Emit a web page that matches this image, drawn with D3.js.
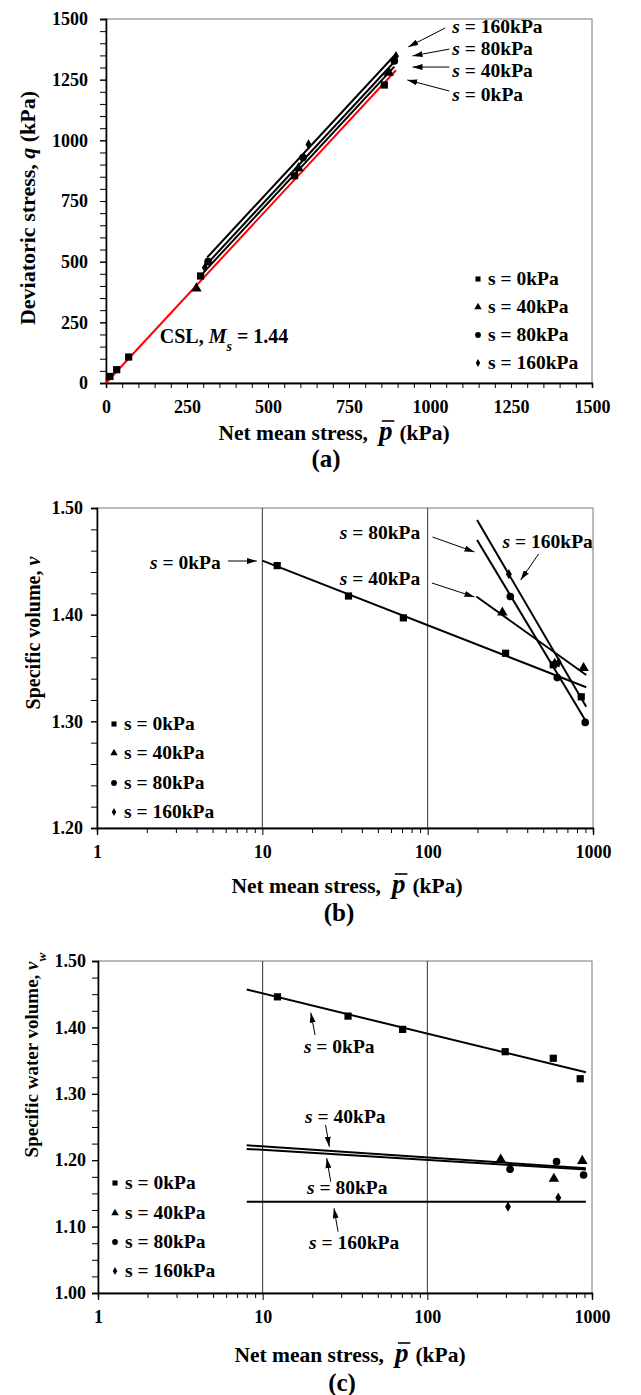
<!DOCTYPE html>
<html>
<head>
<meta charset="utf-8">
<script src="https://cdn.jsdelivr.net/npm/d3@7"></script>
<style>
body { margin:0; background:#fff; }
text { font-family:"Liberation Serif","Times New Roman",serif; font-weight:bold; fill:#000; }
</style>
</head>
<body>
<svg id="chart" width="641" height="1395"></svg>
<script>
// ---- data ----
var suctions = [0, 40, 80, 160];
var legendLabels = ["s = 0kPa", "s = 40kPa", "s = 80kPa", "s = 160kPa"];

// (a) q - p
var a_p0 = [12, 33, 70, 292, 582, 859];
var a_q0 = [27, 55, 107, 441, 854, 1228];
var a_p40 = [279, 594, 873];
var a_q40 = [390, 885, 1279];
var a_p80 = [315, 608, 890];
var a_q80 = [500, 929, 1327];
var a_p160 = [305, 625, 895];
var a_q160 = [475, 983, 1347];
var a_csl_p = [0, 895];
var a_csl_q = [0, 1289];
var a_line40_p = [300, 890];
var a_line40_q = [454, 1304];
var a_line80_p = [305, 893];
var a_line80_q = [481, 1328];
var a_line160_p = [312, 896];
var a_line160_q = [517, 1358];
var a_xTicks = [0, 250, 500, 750, 1000, 1250, 1500];
var a_yTicks = [0, 250, 500, 750, 1000, 1250, 1500];

// (b) v - log p
var b_p0 = [12.3, 33.2, 71.3, 296, 575, 849];
var b_v0 = [1.446, 1.4175, 1.397, 1.3638, 1.353, 1.323];
var b_p40 = [283, 587, 877];
var b_v40 = [1.402, 1.354, 1.350];
var b_p80 = [316, 608, 897];
var b_v80 = [1.417, 1.341, 1.299];
var b_p160 = [310, 620];
var b_v160 = [1.438, 1.3555];
var b_line0_p = [10, 910];
var b_line0_v = [1.4506, 1.332];
var b_line40_p = [197, 910];
var b_line40_v = [1.417, 1.3434];
var b_line80_p = [199, 910];
var b_line80_v = [1.470, 1.2997];
var b_line160_p = [199, 910];
var b_line160_v = [1.4888, 1.3137];
var b_yTicks = [1.20, 1.30, 1.40, 1.50];

// (c) vw - log p
var c_p0 = [12.3, 33, 70.8, 297, 582, 848];
var c_vw0 = [1.446, 1.417, 1.397, 1.3634, 1.3535, 1.3227];
var c_p40 = [279, 587, 873];
var c_vw40 = [1.201, 1.172, 1.199];
var c_p80 = [318, 609, 889];
var c_vw80 = [1.1863, 1.1978, 1.1777];
var c_p160 = [309, 624];
var c_vw160 = [1.130, 1.1435];
var c_line0_p = [8, 918];
var c_line0_vw = [1.457, 1.3324];
var c_line40_p = [8, 918];
var c_line40_vw = [1.2225, 1.188];
var c_line80_p = [8, 918];
var c_line80_vw = [1.217, 1.186];
var c_line160_p = [8, 918];
var c_line160_vw = [1.1375, 1.1375];
var c_yTicks = [1.00, 1.10, 1.20, 1.30, 1.40, 1.50];

var logTicks = [1, 10, 100, 1000];

// ---- setup ----
var svg = d3.select("#chart");

var defs = svg.append("defs");
defs.append("marker")
    .attr("id", "arr")
    .attr("viewBox", "0 0 10 6")
    .attr("refX", 10).attr("refY", 3)
    .attr("markerWidth", 10).attr("markerHeight", 6)
    .attr("markerUnits", "userSpaceOnUse")
    .attr("orient", "auto")
  .append("path").attr("d", "M0,0L10,3L0,6Z").attr("fill", "#000");

var symTypes = [d3.symbolSquare, d3.symbolTriangle, d3.symbolCircle, d3.symbolDiamond];
var symSizes = [52, 48, 46, 30];
var legSizes = [26, 24, 26, 18];

function zip(xs, ys) {
  return xs.map(function(d, i) { return [d, ys[i]]; });
}

function drawPoints(g, xs, ys, sx, sy, k) {
  g.append("g").selectAll("path")
    .data(zip(xs, ys))
    .enter().append("path")
    .attr("d", d3.symbol().type(symTypes[k]).size(symSizes[k]))
    .attr("transform", function(d) { return "translate(" + sx(d[0]) + "," + sy(d[1]) + ")"; })
    .attr("fill", "#000");
}

function drawLine(g, xs, ys, sx, sy, color, w) {
  var line = d3.line().x(function(d) { return sx(d[0]); }).y(function(d) { return sy(d[1]); });
  g.append("path").datum(zip(xs, ys))
    .attr("d", line)
    .attr("fill", "none")
    .attr("stroke", color)
    .attr("stroke-width", w);
}

function styleAxis(ax, size) {
  ax.attr("font-family", null).attr("font-size", null);
  ax.select(".domain").attr("stroke", "#000").attr("stroke-width", 1.3);
  ax.selectAll(".tick line").attr("stroke", "#000").attr("stroke-width", 1);
  ax.selectAll("text").style("font-size", size + "px");
}

function frame(sx, sy) {
  var r = sx.range(), t = sy.range();
  svg.append("rect")
    .attr("x", r[0]).attr("y", t[1])
    .attr("width", r[1] - r[0]).attr("height", t[0] - t[1])
    .attr("fill", "none").attr("stroke", "#777").attr("stroke-width", 1);
}

function legend(x, ys, fs) {
  var g = svg.append("g");
  suctions.forEach(function(s, k) {
    g.append("path")
      .attr("d", d3.symbol().type(symTypes[k]).size(legSizes[k]))
      .attr("transform", "translate(" + x + "," + ys[k] + ")")
      .attr("fill", "#000");
    g.append("text")
      .attr("x", x + 10).attr("y", ys[k] + fs * 0.33)
      .style("font-size", fs + "px")
      .text(legendLabels[k]);
  });
}

function note(x, y, rest, fs) {
  var t = svg.append("text").attr("x", x).attr("y", y).style("font-size", fs + "px");
  t.append("tspan").style("font-style", "italic").text("s");
  t.append("tspan").text(" " + rest);
}

function arrow(x1, y1, x2, y2) {
  svg.append("line")
    .attr("x1", x1).attr("y1", y1).attr("x2", x2).attr("y2", y2)
    .attr("stroke", "#000").attr("stroke-width", 1)
    .attr("marker-end", "url(#arr)");
}

function xTitle(cx, y, lab, labY) {
  var t = svg.append("text").attr("x", cx).attr("y", y)
    .attr("text-anchor", "middle").style("font-size", "21.5px");
  t.append("tspan").text("Net mean stress,");
  t.append("tspan").attr("dx", 11)
    .style("font-style", "italic").style("font-size", "27px").text("p");
  t.append("tspan").attr("dx", 7).text("(kPa)");
  var r = t.node().getExtentOfChar(16);
  svg.append("line")
    .attr("x1", r.x + 3).attr("x2", r.x + r.width + 2)
    .attr("y1", r.y + 5).attr("y2", r.y + 5)
    .attr("stroke", "#000").attr("stroke-width", 1.6);
  svg.append("text").attr("x", cx - 8).attr("y", labY)
    .attr("text-anchor", "middle").style("font-size", "25px").text(lab);
}

function yTitle(x, cy, fs, parts) {
  var t = svg.append("text")
    .attr("transform", "translate(" + x + "," + cy + ") rotate(-90)")
    .attr("text-anchor", "middle").style("font-size", fs + "px");
  parts.forEach(function(p) {
    var s = t.append("tspan").text(p.t);
    if (p.i) s.style("font-style", "italic");
    if (p.sub) s.attr("baseline-shift", "sub").style("font-size", (fs * 0.7) + "px");
  });
}

// ---- panel (a) ----
var ax = d3.scaleLinear().domain([0, 1500]).range([106, 592]);
var ay = d3.scaleLinear().domain([0, 1500]).range([383, 19]);
frame(ax, ay);

var aMinor = d3.range(0, 1501, 50);
styleAxis(svg.append("g").attr("transform", "translate(0,383)")
  .call(d3.axisBottom(ax).tickValues(aMinor).tickSize(5).tickFormat("")), 18);
styleAxis(svg.append("g").attr("transform", "translate(0,383)")
  .call(d3.axisBottom(ax).tickValues(a_xTicks).tickSize(5).tickPadding(12).tickFormat(d3.format("d"))), 18);
styleAxis(svg.append("g").attr("transform", "translate(106,0)")
  .call(d3.axisLeft(ay).tickValues(aMinor).tickSize(6).tickFormat("")), 18);
styleAxis(svg.append("g").attr("transform", "translate(106,0)")
  .call(d3.axisLeft(ay).tickValues(a_yTicks).tickSize(6).tickPadding(12).tickFormat(d3.format("d"))), 18);

var ga = svg.append("g");
drawLine(ga, a_line40_p, a_line40_q, ax, ay, "#000", 2);
drawLine(ga, a_line80_p, a_line80_q, ax, ay, "#000", 2);
drawLine(ga, a_line160_p, a_line160_q, ax, ay, "#000", 2);
drawLine(ga, a_csl_p, a_csl_q, ax, ay, "#ff0000", 2);
drawPoints(ga, a_p0, a_q0, ax, ay, 0);
drawPoints(ga, a_p40, a_q40, ax, ay, 1);
drawPoints(ga, a_p80, a_q80, ax, ay, 2);
drawPoints(ga, a_p160, a_q160, ax, ay, 3);

note(ax(1069), ay(1442), "= 160kPa", 19.5);
note(ax(1069), ay(1352), "= 80kPa", 19.5);
note(ax(1069), ay(1261), "= 40kPa", 19.5);
note(ax(1069), ay(1162), "= 0kPa", 19.5);
arrow(ax(1047), ay(1463), ax(933), ay(1385));
arrow(ax(1060), ay(1376), ax(946), ay(1348));
arrow(ax(1060), ay(1302), ax(946), ay(1302));
arrow(ax(1060), ay(1203), ax(930), ay(1249));

var csl = svg.append("text").attr("x", ax(166)).attr("y", ay(165)).style("font-size", "20px");
csl.append("tspan").text("CSL, ");
csl.append("tspan").style("font-style", "italic").text("M");
csl.append("tspan").style("font-style", "italic").style("font-size", "14px").attr("baseline-shift", "sub").text("s");
csl.append("tspan").text(" = 1.44");

legend(478, [279, 307, 335, 363], 19.5);
yTitle(35, 208, 22, [{t: "Deviatoric stress, "}, {t: "q", i: true}, {t: " (kPa)"}]);
xTitle(334, 440, "(a)", 467);

// ---- panel (b) ----
var bx = d3.scaleLog().domain([1, 1000]).range([97, 593]);
var by = d3.scaleLinear().domain([1.2, 1.5]).range([828, 508]);
frame(bx, by);

function logMinor() {
  var v = [];
  [1, 10, 100].forEach(function(dec) {
    for (var i = 2; i <= 9; i++) v.push(dec * i);
  });
  return v;
}

function logGrid(sx, sy) {
  svg.append("g").selectAll("line")
    .data([10, 100]).enter().append("line")
    .attr("x1", sx).attr("x2", sx)
    .attr("y1", sy.range()[0]).attr("y2", sy.range()[1])
    .attr("stroke", "#333").attr("stroke-width", 1);
}

logGrid(bx, by);
styleAxis(svg.append("g").attr("transform", "translate(0,828)")
  .call(d3.axisBottom(bx).tickValues(logMinor()).tickSize(5).tickFormat("")), 18);
styleAxis(svg.append("g").attr("transform", "translate(0,828)")
  .call(d3.axisBottom(bx).tickValues(logTicks).tickSize(7).tickPadding(10).tickFormat(d3.format("d"))), 18);
styleAxis(svg.append("g").attr("transform", "translate(97,0)")
  .call(d3.axisLeft(by).tickValues(d3.range(1.2, 1.5001, 0.02)).tickSize(6).tickFormat("")), 18);
styleAxis(svg.append("g").attr("transform", "translate(97,0)")
  .call(d3.axisLeft(by).tickValues(b_yTicks).tickSize(6).tickPadding(8).tickFormat(d3.format(".2f"))), 18);

var gb = svg.append("g");
drawLine(gb, b_line0_p, b_line0_v, bx, by, "#000", 2);
drawLine(gb, b_line40_p, b_line40_v, bx, by, "#000", 2);
drawLine(gb, b_line80_p, b_line80_v, bx, by, "#000", 2);
drawLine(gb, b_line160_p, b_line160_v, bx, by, "#000", 2);
drawPoints(gb, b_p0, b_v0, bx, by, 0);
drawPoints(gb, b_p40, b_v40, bx, by, 1);
drawPoints(gb, b_p80, b_v80, bx, by, 2);
drawPoints(gb, b_p160, b_v160, bx, by, 3);

note(bx(2.09), by(1.4428), "= 0kPa", 19.5);
arrow(bx(6.19), by(1.4503), bx(9.26), by(1.4503));
note(bx(29.4), by(1.4709), "= 80kPa", 19.5);
arrow(bx(107), by(1.4728), bx(192), by(1.4588));
note(bx(29.4), by(1.4278), "= 40kPa", 19.5);
arrow(bx(106), by(1.4297), bx(192), by(1.4166));
note(bx(284), by(1.4625), "= 160kPa", 19.5);
arrow(bx(469), by(1.4569), bx(365), by(1.4325));

legend(114, [724, 753, 783, 812], 19.5);
yTitle(40, 633, 20, [{t: "Specific volume, "}, {t: "v", i: true}]);
xTitle(347, 893, "(b)", 921);

// ---- panel (c) ----
var cx = d3.scaleLog().domain([1, 1000]).range([98, 592]);
var cy = d3.scaleLinear().domain([1.0, 1.5]).range([1293, 961]);
frame(cx, cy);
logGrid(cx, cy);
styleAxis(svg.append("g").attr("transform", "translate(0,1293)")
  .call(d3.axisBottom(cx).tickValues(logMinor()).tickSize(5).tickFormat("")), 18);
styleAxis(svg.append("g").attr("transform", "translate(0,1293)")
  .call(d3.axisBottom(cx).tickValues(logTicks).tickSize(7).tickPadding(10).tickFormat(d3.format("d"))), 18);
styleAxis(svg.append("g").attr("transform", "translate(98,0)")
  .call(d3.axisLeft(cy).tickValues(d3.range(1.0, 1.5001, 0.025)).tickSize(6).tickFormat("")), 18);
styleAxis(svg.append("g").attr("transform", "translate(98,0)")
  .call(d3.axisLeft(cy).tickValues(c_yTicks).tickSize(6).tickPadding(6).tickFormat(d3.format(".2f"))), 18);

var gc = svg.append("g");
drawLine(gc, c_line0_p, c_line0_vw, cx, cy, "#000", 2);
drawLine(gc, c_line40_p, c_line40_vw, cx, cy, "#000", 2);
drawLine(gc, c_line80_p, c_line80_vw, cx, cy, "#000", 2);
drawLine(gc, c_line160_p, c_line160_vw, cx, cy, "#000", 2);
drawPoints(gc, c_p0, c_vw0, cx, cy, 0);
drawPoints(gc, c_p40, c_vw40, cx, cy, 1);
drawPoints(gc, c_p80, c_vw80, cx, cy, 2);
drawPoints(gc, c_p160, c_vw160, cx, cy, 3);

note(cx(17.8), cy(1.3614), "= 0kPa", 19.5);
arrow(cx(20.8), cy(1.3886), cx(19.6), cy(1.4221));
note(cx(18.1), cy(1.256), "= 40kPa", 19.5);
arrow(cx(24.1), cy(1.253), cx(25.4), cy(1.2203));
note(cx(18.6), cy(1.1491), "= 80kPa", 19.5);
arrow(cx(25.9), cy(1.1676), cx(24.5), cy(1.2029));
note(cx(19.1), cy(1.0663), "= 160kPa", 19.5);
arrow(cx(28.7), cy(1.0923), cx(27.1), cy(1.1276));

legend(115, [1183, 1213, 1242, 1271], 19.5);
yTitle(38, 1055, 19, [{t: "Specific water volume, "}, {t: "v", i: true}, {t: "w", i: true, sub: true}]);
xTitle(350, 1362, "(c)", 1391);
</script>
</body>
</html>
